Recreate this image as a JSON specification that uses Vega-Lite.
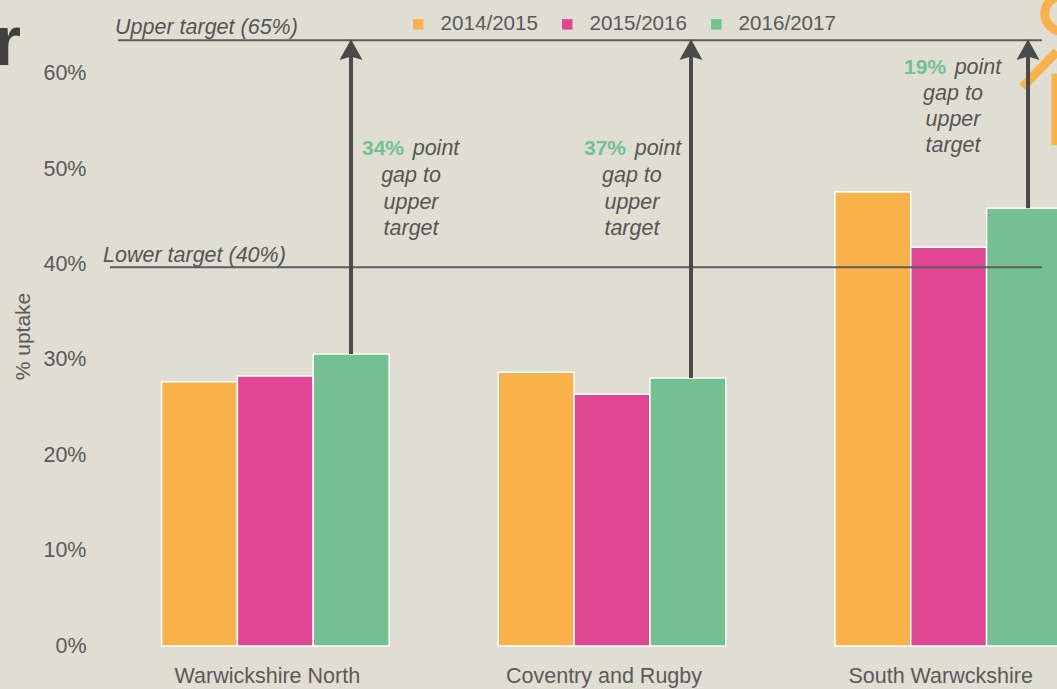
{"$schema":"https://vega.github.io/schema/vega-lite/v6.json","width":932,"height":620,"autosize":"none","padding":{"left":110,"top":26,"right":15,"bottom":43},"background":"#E0DED2","config":{"view":{"stroke":null},"font":"Liberation Sans"},
"datasets":{
"bars":[{"region":"Warwickshire North","year":"2014/2015","uptake":27.7},{"region":"Warwickshire North","year":"2015/2016","uptake":28.3},{"region":"Warwickshire North","year":"2016/2017","uptake":30.6},{"region":"Coventry and Rugby","year":"2014/2015","uptake":28.7},{"region":"Coventry and Rugby","year":"2015/2016","uptake":26.4},{"region":"Coventry and Rugby","year":"2016/2017","uptake":28.1},{"region":"South Warwckshire","year":"2014/2015","uptake":47.6},{"region":"South Warwckshire","year":"2015/2016","uptake":41.8},{"region":"South Warwckshire","year":"2016/2017","uptake":45.9}],
"targets":[{"label":"Upper target (65%)","start":0.0086,"end":1,"level":63.5,"labelStart":0.0054,"labelLevel":64.8},{"label":"Lower target (40%)","start":0,"end":1,"level":39.7,"labelStart":-0.0075,"labelLevel":40.9}],
"arrows":[{"pos":0.2586,"from":30.6,"to":63.2,"head":62.4},{"pos":0.6234,"from":28.1,"to":63.2,"head":62.4},{"pos":0.985,"from":45.9,"to":63.2,"head":62.4}],
"gaps":[{"pos":0.2929,"y":52.1,"t":"34%"},{"pos":0.5311,"y":52.1,"t":"37%"},{"pos":0.8745,"y":60.6,"t":"19%"}],
"notes":[{"pos":0.3498,"y":52.1,"t":"point"},{"pos":0.323,"y":49.3,"t":"gap to"},{"pos":0.323,"y":46.4,"t":"upper"},{"pos":0.323,"y":43.7,"t":"target"},{"pos":0.588,"y":52.1,"t":"point"},{"pos":0.56,"y":49.3,"t":"gap to"},{"pos":0.56,"y":46.4,"t":"upper"},{"pos":0.56,"y":43.7,"t":"target"},{"pos":0.9313,"y":60.6,"t":"point"},{"pos":0.9045,"y":57.9,"t":"gap to"},{"pos":0.9045,"y":55.1,"t":"upper"},{"pos":0.9045,"y":52.4,"t":"target"}],
"figureLines":[{"a":0.979,"b":1.016,"y":58.6,"y2":62.3},{"a":1.015,"b":1.015,"y":60.0,"y2":52.5}],
"figureHead":[{"a":1.022,"y":66.3}],
"cutoff":[{"a":-0.0955,"y":60.9,"t":"r"}]
},
"layer":[
{"data":{"name":"bars"},"mark":{"type":"bar","stroke":"#ffffff","strokeWidth":1.5},
"encoding":{
"x":{"field":"region","type":"nominal","sort":null,"title":null,"scale":{"range":[-3,1007],"paddingInner":0,"paddingOuter":0},"axis":{"domain":false,"ticks":false,"labelAngle":0,"labelFontSize":21.5,"labelLimit":300,"labelColor":"#5a5a5a","labelPadding":19,"labelOffset":-8}},
"xOffset":{"field":"year","type":"nominal","scale":{"paddingInner":0,"paddingOuter":0.72}},
"y":{"field":"uptake","type":"quantitative","title":"% uptake","scale":{"domain":[0,65],"nice":false},"axis":{"values":[0,10,20,30,40,50,60],"labelExpr":"datum.value + '%'","grid":false,"domain":false,"ticks":false,"labelFontSize":21.5,"labelColor":"#5a5a5a","labelPadding":24,"titleFontSize":21,"titleFontWeight":"normal","titleColor":"#5a5a5a","titlePadding":9}},
"color":{"field":"year","type":"nominal","scale":{"domain":["2014/2015","2015/2016","2016/2017"],"range":["#F9B14A","#E04594","#74C090"]},"legend":{"title":null,"orient":"none","legendX":298,"legendY":-12,"direction":"horizontal","columns":3,"symbolType":"square","symbolSize":110,"symbolStrokeWidth":0,"labelFontSize":20.6,"labelColor":"#5a5a5a","labelOffset":12,"columnPadding":19}}
}},
{"layer":[
{"data":{"name":"figureLines"},"mark":{"type":"rule","stroke":"#F9B14A","strokeWidth":9},"encoding":{"x":{"field":"a","type":"quantitative","scale":{"domain":[0,1],"nice":false,"zero":false},"axis":null},"x2":{"field":"b"},"y":{"field":"y","type":"quantitative"},"y2":{"field":"y2"}}},
{"data":{"name":"figureHead"},"mark":{"type":"point","shape":"circle","filled":false,"stroke":"#F9B14A","strokeWidth":9,"size":1257,"opacity":1},"encoding":{"x":{"field":"a","type":"quantitative","scale":{"domain":[0,1],"nice":false,"zero":false},"axis":null},"y":{"field":"y","type":"quantitative"}}},
{"data":{"name":"targets"},"mark":{"type":"rule","stroke":"#5c5c5c","strokeWidth":2},"encoding":{"x":{"field":"start","type":"quantitative","scale":{"domain":[0,1],"nice":false,"zero":false},"axis":null},"x2":{"field":"end"},"y":{"field":"level","type":"quantitative"}}},
{"data":{"name":"targets"},"mark":{"type":"text","align":"left","baseline":"middle","fontStyle":"italic","fontSize":21.5,"color":"#555555"},"encoding":{"x":{"field":"labelStart","type":"quantitative"},"y":{"field":"labelLevel","type":"quantitative"},"text":{"field":"label"}}},
{"data":{"name":"arrows"},"mark":{"type":"rule","stroke":"#4a4a4a","strokeWidth":4},"encoding":{"x":{"field":"pos","type":"quantitative"},"y":{"field":"from","type":"quantitative"},"y2":{"field":"to"}}},
{"data":{"name":"arrows"},"mark":{"type":"point","filled":true,"opacity":1,"color":"#4a4a4a","shape":"M0,-0.5 L0.5,0.4 L0,0.25 L-0.5,0.4 Z","size":2116},"encoding":{"x":{"field":"pos","type":"quantitative"},"y":{"field":"head","type":"quantitative"}}},
{"data":{"name":"gaps"},"mark":{"type":"text","baseline":"middle","fontWeight":"bold","fontSize":21,"color":"#74C090"},"encoding":{"x":{"field":"pos","type":"quantitative"},"y":{"field":"y","type":"quantitative"},"text":{"field":"t"}}},
{"data":{"name":"notes"},"mark":{"type":"text","baseline":"middle","fontStyle":"italic","fontSize":21.5,"color":"#555555"},"encoding":{"x":{"field":"pos","type":"quantitative"},"y":{"field":"y","type":"quantitative"},"text":{"field":"t"}}},
{"data":{"name":"cutoff"},"mark":{"type":"text","align":"right","baseline":"alphabetic","fontWeight":"bold","fontSize":70,"color":"#404040"},"encoding":{"x":{"field":"a","type":"quantitative"},"y":{"field":"y","type":"quantitative"},"text":{"field":"t"}}}
]}
],
"resolve":{"scale":{"x":"independent"}}}
